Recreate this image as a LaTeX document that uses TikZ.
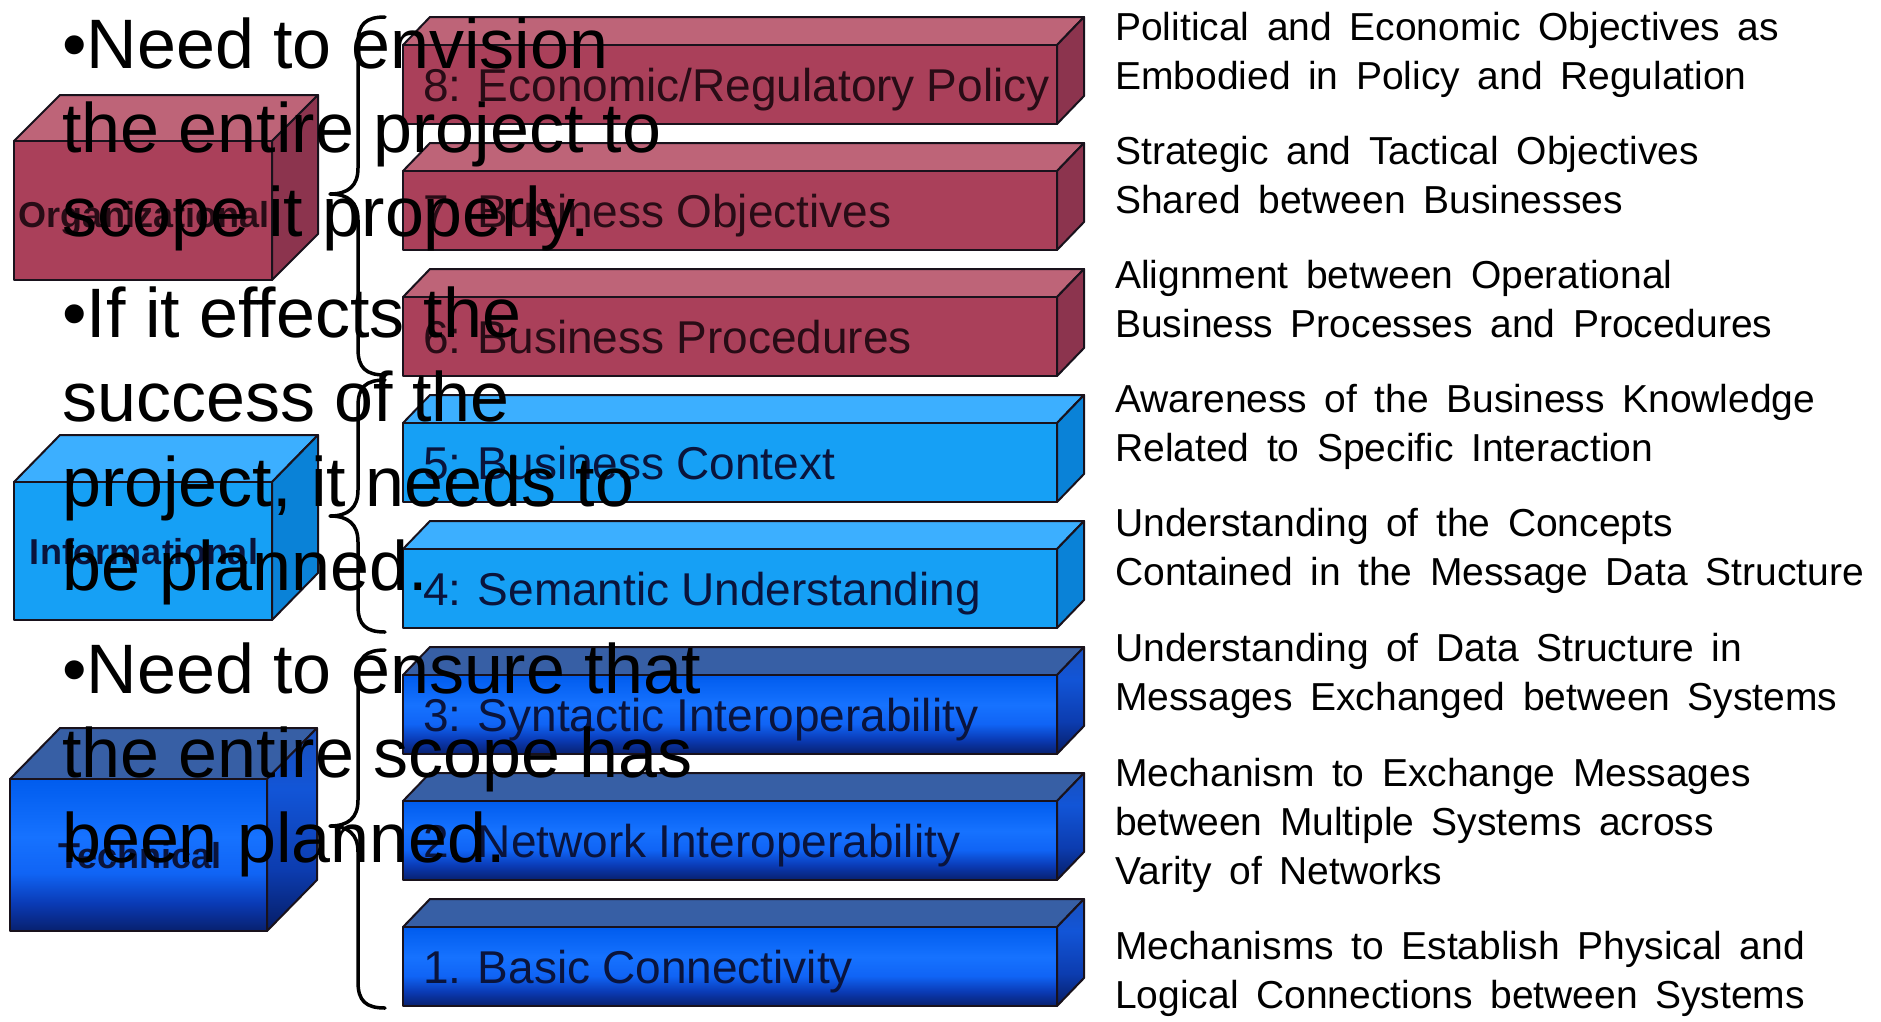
\documentclass[tikz,border=0pt]{standalone}
\usepackage{fontspec}
\setmainfont{Liberation Sans}
\newcommand{\descfnt}{\fontsize{39}{46}\selectfont\spaceskip=17.5pt plus 2pt minus 2pt\relax}
\newcommand{\labfnt}{\fontsize{46}{50}\selectfont\spaceskip=12pt plus 2pt minus 2pt\relax}
\definecolor{mfront}{RGB}{170,64,90}
\definecolor{mtop}{RGB}{190,100,120}
\definecolor{mside}{RGB}{140,52,78}
\definecolor{lfront}{RGB}{22,160,245}
\definecolor{ltop}{RGB}{60,175,255}
\definecolor{lside}{RGB}{10,130,215}
\definecolor{dtopface}{RGB}{55,95,165}
\definecolor{edge}{RGB}{25,18,28}
\definecolor{bluetext}{RGB}{10,20,60}
\definecolor{redtext}{RGB}{40,12,22}
\pgfdeclareverticalshading{bluefront}{100bp}{%
  color(0bp)=(rgb,255:red,8;green,32;blue,110);
  color(25bp)=(rgb,255:red,8;green,32;blue,110);
  color(34bp)=(rgb,255:red,10;green,58;blue,180);
  color(44bp)=(rgb,255:red,16;green,100;blue,245);
  color(56bp)=(rgb,255:red,22;green,114;blue,255);
  color(75bp)=(rgb,255:red,0;green,92;blue,238);
  color(100bp)=(rgb,255:red,0;green,92;blue,238)}
\pgfdeclareverticalshading{blueside}{100bp}{%
  color(0bp)=(rgb,255:red,6;green,28;blue,100);
  color(25bp)=(rgb,255:red,6;green,28;blue,100);
  color(40bp)=(rgb,255:red,12;green,60;blue,175);
  color(60bp)=(rgb,255:red,18;green,85;blue,215);
  color(75bp)=(rgb,255:red,25;green,80;blue,190);
  color(100bp)=(rgb,255:red,25;green,80;blue,190)}
\tikzset{
  face/.style={draw=edge,line width=2pt,line join=round},
  mf/.style={face,fill=mfront}, mt/.style={face,fill=mtop}, ms/.style={face,fill=mside},
  lf/.style={face,fill=lfront}, lt/.style={face,fill=ltop}, ls/.style={face,fill=lside},
  df/.style={face,shading=bluefront},
  dt/.style={face,fill=dtopface},
  ds/.style={face,shading=blueside},
  barlabel/.style={anchor=base west,inner sep=0pt,font=\labfnt},
  catlabel/.style={anchor=base,inner sep=0pt,font=\bfseries\fontsize{36}{40}\selectfont},
  desc/.style={anchor=base west,inner sep=0pt,font=\descfnt},
  bul/.style={anchor=base west,inner sep=0pt,font=\fontsize{70}{84}\selectfont},
  bracestyle/.style={draw=black,line width=3.5pt,line cap=round,line join=round}
}
\newcommand{\mycube}[9]{%
  \path[#8] (#1,#2) -- ({#1+#5},{#2-#6}) -- ({#3+#5},{#2-#6}) -- (#3,#2) -- cycle;
  \path[#9] (#3,#2) -- ({#3+#5},{#2-#6}) -- ({#3+#5},{#4-#6}) -- (#3,#4) -- cycle;
  \path[#7] (#1,#2) rectangle (#3,#4);
}
\newcommand{\mybrace}[3]{%
  \draw[bracestyle] (385,#1) .. controls (366,#1) and (358,{#1+7}) .. (358,{#1+26})
    -- (358,{#3-26}) .. controls (358,{#3-8}) and (348,#3) .. (330,#3)
    .. controls (348,#3) and (358,{#3+8}) .. (358,{#3+26})
    -- (358,{#2-26}) .. controls (358,{#2-7}) and (366,#2) .. (385,#2);
}
\begin{document}
\begin{tikzpicture}[x=1pt,y=-1pt]
\fill[white] (0,0) rectangle (1881,1021);
\useasboundingbox (0,0) rectangle (1881,1021);

% category boxes
\mycube{14}{141}{272}{280}{46}{46}{mf}{mt}{ms}
\mycube{14}{482}{272}{620}{46}{47}{lf}{lt}{ls}
\mycube{10}{779}{267}{931}{50}{51}{df}{dt}{ds}
\node[catlabel,text=redtext] (corg) at (144,227) {Organizational};
\node[catlabel,text=bluetext] (cinf) at (144,564) {Informational};
\node[catlabel,text=bluetext] (ctec) at (140,868) {Technical};

% bars
\mycube{403}{45}{1057}{124}{27}{28}{mf}{mt}{ms}
\mycube{403}{171}{1057}{250}{27}{28}{mf}{mt}{ms}
\mycube{403}{297}{1057}{376}{27}{28}{mf}{mt}{ms}
\mycube{403}{423}{1057}{502}{27}{28}{lf}{lt}{ls}
\mycube{403}{549}{1057}{628}{27}{28}{lf}{lt}{ls}
\mycube{403}{675}{1057}{754}{27}{28}{df}{dt}{ds}
\mycube{403}{801}{1057}{880}{27}{28}{df}{dt}{ds}
\mycube{403}{927}{1057}{1006}{27}{28}{df}{dt}{ds}
\node[barlabel,text=redtext] (l8) at (423,101) {8: Economic/Regulatory Policy};
\node[barlabel,text=redtext] (l7) at (423,227) {7: Business Objectives};
\node[barlabel,text=redtext] (l6) at (423,353) {6: Business Procedures};
\node[barlabel,text=bluetext] (l5) at (423,479) {5: Business Context};
\node[barlabel,text=bluetext] (l4) at (423,605) {4: Semantic Understanding};
\node[barlabel,text=bluetext] (l3) at (423,731) {3: Syntactic Interoperability};
\node[barlabel,text=bluetext] (l2) at (423,857) {2: Network Interoperability};
\node[barlabel,text=bluetext] (l1) at (423,983) {1. Basic Connectivity};

% braces
\mybrace{17}{375}{194}
\mybrace{380}{632}{516}
\mybrace{650}{1008}{826}

% descriptions
\node[desc] (d1a) at (1115,40) {Political and Economic Objectives as};
\node[desc] (d1b) at (1115,89) {Embodied in Policy and Regulation};
\node[desc] (d2a) at (1115,164) {Strategic and Tactical Objectives};
\node[desc] (d2b) at (1115,213) {Shared between Businesses};
\node[desc] (d3a) at (1115,288) {Alignment between Operational};
\node[desc] (d3b) at (1115,337) {Business Processes and Procedures};
\node[desc] (d4a) at (1115,412) {Awareness of the Business Knowledge};
\node[desc] (d4b) at (1115,461) {Related to Specific Interaction};
\node[desc] (d5a) at (1115,536) {Understanding of the Concepts};
\node[desc] (d5b) at (1115,585) {Contained in the Message Data Structure};
\node[desc] (d6a) at (1115,661) {Understanding of Data Structure in};
\node[desc] (d6b) at (1115,710) {Messages Exchanged between Systems};
\node[desc] (d7a) at (1115,786) {Mechanism to Exchange Messages};
\node[desc] (d7b) at (1115,835) {between Multiple Systems across};
\node[desc] (d7c) at (1115,884) {Varity of Networks};
\node[desc] (d8a) at (1115,959) {Mechanisms to Establish Physical and};
\node[desc] (d8b) at (1115,1008) {Logical Connections between Systems};

% overlaid bullet text
\node[bul] (t1) at (62,68) {•Need to envision};
\node[bul] (t2) at (62,152) {the entire project to};
\node[bul] (t3) at (62,236) {scope it properly.};
\node[bul] (t4) at (62,337) {•If it effects the};
\node[bul] (t5) at (62,421) {success of the};
\node[bul] (t6) at (62,506) {project, it needs to};
\node[bul] (t7) at (62,590) {be planned.};
\node[bul] (t8) at (62,693) {•Need to ensure that};
\node[bul] (t9) at (62,777) {the entire scope has};
\node[bul] (t10) at (62,862) {been planned.};
\end{tikzpicture}
\end{document}
